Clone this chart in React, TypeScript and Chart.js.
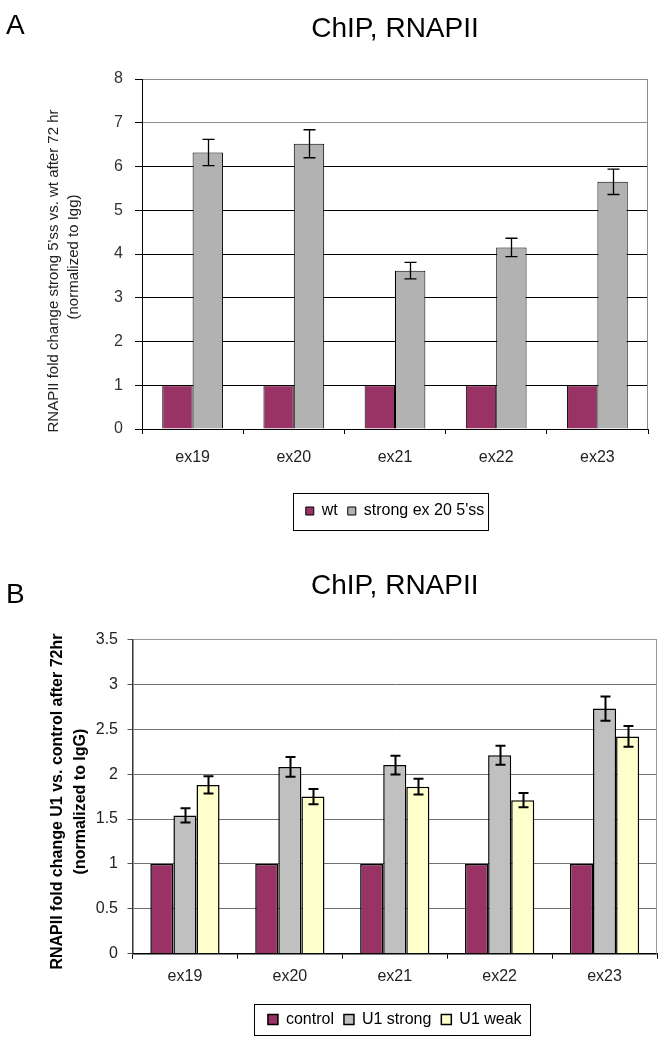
import React, { useEffect, useRef } from "react";
import { Chart, registerables } from "chart.js";

Chart.register(...registerables);

const FONT = "'Liberation Sans', Arial, Helvetica, sans-serif";

// ---- data ----
const exons = ["ex19", "ex20", "ex21", "ex22", "ex23"];

const aWt = [1, 1, 1, 1, 1];
const aStrong = [6.32, 6.52, 3.62, 4.15, 5.65];
const aStrongErr = [0.3, 0.32, 0.19, 0.21, 0.29];

const bControl = [1, 1, 1, 1, 1];
const bStrong = [1.54, 2.08, 2.1, 2.21, 2.73];
const bStrongErr = [0.08, 0.11, 0.105, 0.105, 0.135];
const bWeak = [1.88, 1.75, 1.86, 1.71, 2.42];
const bWeakErr = [0.095, 0.085, 0.088, 0.08, 0.115];

const titleText = "ChIP, RNAPII";
const aYTitle = ["RNAPII fold change strong 5'ss vs. wt after 72 hr", "(normalized to Igg)"];
const bYTitle = ["RNAPII fold change U1 vs. control after 72hr", "(normalized to IgG)"];

// ---- plugins ----
const errorBarPlugin = {
  id: "errorBars",
  afterDatasetsDraw(chart: any, _args: any, opts: any) {
    const ctx = chart.ctx;
    const yScale = chart.scales.y;
    chart.data.datasets.forEach((ds: any, di: number) => {
      if (!ds.errors) return;
      const meta = chart.getDatasetMeta(di);
      meta.data.forEach((bar: any, i: number) => {
        const v = ds.data[i];
        const e = ds.errors[i];
        const yTop = yScale.getPixelForValue(v + e);
        const yBot = yScale.getPixelForValue(v - e);
        const x = Math.round(bar.x) + 0.5;
        const hw = opts.capWidth / 2;
        ctx.save();
        ctx.strokeStyle = opts.color;
        ctx.lineWidth = opts.lineWidth;
        ctx.beginPath();
        ctx.moveTo(x, yTop);
        ctx.lineTo(x, yBot);
        ctx.moveTo(x - hw, yTop);
        ctx.lineTo(x + hw, yTop);
        ctx.moveTo(x - hw, yBot);
        ctx.lineTo(x + hw, yBot);
        ctx.stroke();
        ctx.restore();
      });
    });
  },
};

const framePlugin = {
  id: "frame",
  afterDraw(chart: any, _args: any, opts: any) {
    const { ctx, chartArea } = chart;
    ctx.save();
    // right border of plot area
    ctx.strokeStyle = opts.rightColor;
    ctx.lineWidth = 1;
    const rx = Math.round(chartArea.right) - 0.5;
    ctx.beginPath();
    ctx.moveTo(rx, chartArea.top);
    ctx.lineTo(rx, chartArea.bottom);
    ctx.stroke();

    // legend frame
    const lg: any = chart.legend;
    if (lg && lg.legendHitBoxes && lg.legendHitBoxes.length) {
      const boxes = lg.legendHitBoxes;
      const left = Math.min(...boxes.map((b: any) => b.left)) - opts.legendPadLeft;
      const right = Math.max(...boxes.map((b: any) => b.left + b.width)) + opts.legendPadRight;
      const cy = boxes[0].top + boxes[0].height / 2;
      ctx.strokeStyle = "#000";
      ctx.lineWidth = 1;
      ctx.strokeRect(
        Math.round(left) + 0.5,
        Math.round(cy - opts.legendHalfH) + 0.5,
        Math.round(right - left),
        Math.round(opts.legendHalfH * 2)
      );
    }

    // y axis title (two lines, rotated)
    const yt = opts.yTitle;
    if (yt) {
      const mid = (chartArea.top + chartArea.bottom) / 2;
      ctx.fillStyle = yt.color;
      ctx.font = yt.font;
      ctx.textAlign = "center";
      ctx.textBaseline = "middle";
      yt.lines.forEach((line: string, i: number) => {
        ctx.save();
        ctx.translate(yt.xs[i], mid + yt.offsets[i]);
        ctx.rotate(-Math.PI / 2);
        ctx.fillText(line, 0, 0);
        ctx.restore();
      });
    }
    ctx.restore();
  },
};

const plainNumber = (v: any) => `${Number(v)}`;

function makeConfigA(): any {
  return {
    type: "bar",
    data: {
      labels: exons,
      datasets: [
        { label: "wt", data: aWt, backgroundColor: "#993366", borderColor: "#000", borderWidth: 1 },
        {
          label: "strong ex 20 5'ss",
          data: aStrong,
          errors: aStrongErr,
          backgroundColor: "#b2b2b2",
          borderColor: "#000",
          borderWidth: 1,
        },
      ],
    },
    options: {
      animation: false,
      responsive: false,
      font: { family: FONT },
      layout: { padding: { left: 0, right: 16, top: 0, bottom: 11 } },
      datasets: { bar: { categoryPercentage: 0.6, barPercentage: 1 } },
      scales: {
        x: {
          grid: { display: true, drawOnChartArea: false, drawTicks: true, tickLength: 5, color: "#000" },
          border: { color: "#000", width: 1 },
          ticks: { color: "#222", font: { family: FONT, size: 16 }, padding: 14 },
          afterFit: (s: any) => {
            s.height = 64;
          },
        },
        y: {
          min: 0,
          max: 8,
          ticks: { stepSize: 1, color: "#333", font: { family: FONT, size: 16 }, padding: 12, callback: plainNumber },
          grid: {
            color: (c: any) => (c.tick && c.tick.value >= 7 ? "#8c8c8c" : "#000"),
            tickColor: "#000",
            tickLength: 7,
          },
          border: { color: "#000", width: 1 },
          afterFit: (s: any) => {
            s.width = 142;
          },
        },
      },
      plugins: {
        title: {
          display: true,
          text: titleText,
          fullSize: false,
          color: "#000",
          font: { family: FONT, size: 28, weight: "normal", lineHeight: 1.2 },
          padding: { top: 12.2, bottom: 33.2 },
        },
        legend: {
          position: "bottom",
          fullSize: false,
          labels: {
            boxWidth: 8,
            boxHeight: 8,
            padding: 10,
            color: "#000",
            font: { family: FONT, size: 16 },
          },
        },
        tooltip: { enabled: false },
        errorBars: { color: "#000", lineWidth: 1.3, capWidth: 12 },
        frame: {
          rightColor: "#8c8c8c",
          legendPadLeft: 13,
          legendPadRight: 4,
          legendHalfH: 18.5,
          yTitle: { lines: aYTitle, xs: [54, 74], offsets: [17, 3], color: "#222", font: `15px ${FONT}` },
        },
      },
    },
    plugins: [errorBarPlugin, framePlugin],
  };
}

function makeConfigB(): any {
  return {
    type: "bar",
    data: {
      labels: exons,
      datasets: [
        { label: "control", data: bControl, backgroundColor: "#993366", borderColor: "#000", borderWidth: 1.5 },
        {
          label: "U1 strong",
          data: bStrong,
          errors: bStrongErr,
          backgroundColor: "#c0c0c0",
          borderColor: "#000",
          borderWidth: 1.5,
        },
        {
          label: "U1 weak",
          data: bWeak,
          errors: bWeakErr,
          backgroundColor: "#ffffcc",
          borderColor: "#000",
          borderWidth: 1.5,
        },
      ],
    },
    options: {
      animation: false,
      responsive: false,
      font: { family: FONT },
      layout: { padding: { left: 0, right: 7, top: 0, bottom: 4.5 } },
      datasets: { bar: { categoryPercentage: 0.66, barPercentage: 1 } },
      scales: {
        x: {
          grid: { display: true, drawOnChartArea: false, drawTicks: true, tickLength: 5, color: "#000" },
          border: { color: "#000", width: 1.5 },
          ticks: { color: "#222", font: { family: FONT, size: 16 }, padding: 8 },
          afterFit: (s: any) => {
            s.height = 47.8;
          },
        },
        y: {
          min: 0,
          max: 3.5,
          ticks: {
            stepSize: 0.5,
            color: "#222",
            font: { family: FONT, size: 16 },
            padding: 9.5,
            callback: plainNumber,
          },
          grid: {
            color: (c: any) => (c.tick && c.tick.value >= 3.5 ? "#9a9a9a" : "#707070"),
            tickColor: "#555",
            tickLength: 5,
          },
          border: { color: "#333", width: 1.5 },
          afterFit: (s: any) => {
            s.width = 132.5;
          },
        },
      },
      plugins: {
        title: {
          display: true,
          text: titleText,
          fullSize: false,
          color: "#000",
          font: { family: FONT, size: 28, weight: "normal", lineHeight: 1.2 },
          padding: { top: 29.2, bottom: 36.6 },
        },
        legend: {
          position: "bottom",
          fullSize: false,
          labels: {
            boxWidth: 10,
            boxHeight: 10,
            padding: 10,
            color: "#000",
            font: { family: FONT, size: 16 },
          },
        },
        tooltip: { enabled: false },
        errorBars: { color: "#000", lineWidth: 2, capWidth: 10 },
        frame: {
          rightColor: "#9a9a9a",
          legendPadLeft: 14,
          legendPadRight: 8,
          legendHalfH: 15.5,
          yTitle: { lines: bYTitle, xs: [58, 81], offsets: [5, 5], color: "#000", font: `bold 16px ${FONT}` },
        },
      },
    },
    plugins: [errorBarPlugin, framePlugin],
  };
}

export default function App() {
  const refA = useRef<HTMLCanvasElement | null>(null);
  const refB = useRef<HTMLCanvasElement | null>(null);

  useEffect(() => {
    if (!refA.current || !refB.current) return;
    const ca = new Chart(refA.current, makeConfigA());
    const cb = new Chart(refB.current, makeConfigB());
    return () => {
      ca.destroy();
      cb.destroy();
    };
  }, []);

  const letter: React.CSSProperties = {
    position: "absolute",
    left: 6,
    fontFamily: FONT,
    fontSize: 28,
    lineHeight: 1,
    color: "#000",
  };

  return (
    <div style={{ position: "absolute", left: 0, top: 0, width: 664, height: 1042, background: "#fff" }}>
      <canvas ref={refA} width={664} height={540} style={{ position: "absolute", left: 0, top: 0 }} />
      <canvas ref={refB} width={664} height={502} style={{ position: "absolute", left: 0, top: 540 }} />
      <div style={{ ...letter, top: 11 }}>A</div>
      <div style={{ ...letter, top: 580 }}>B</div>
    </div>
  );
}
